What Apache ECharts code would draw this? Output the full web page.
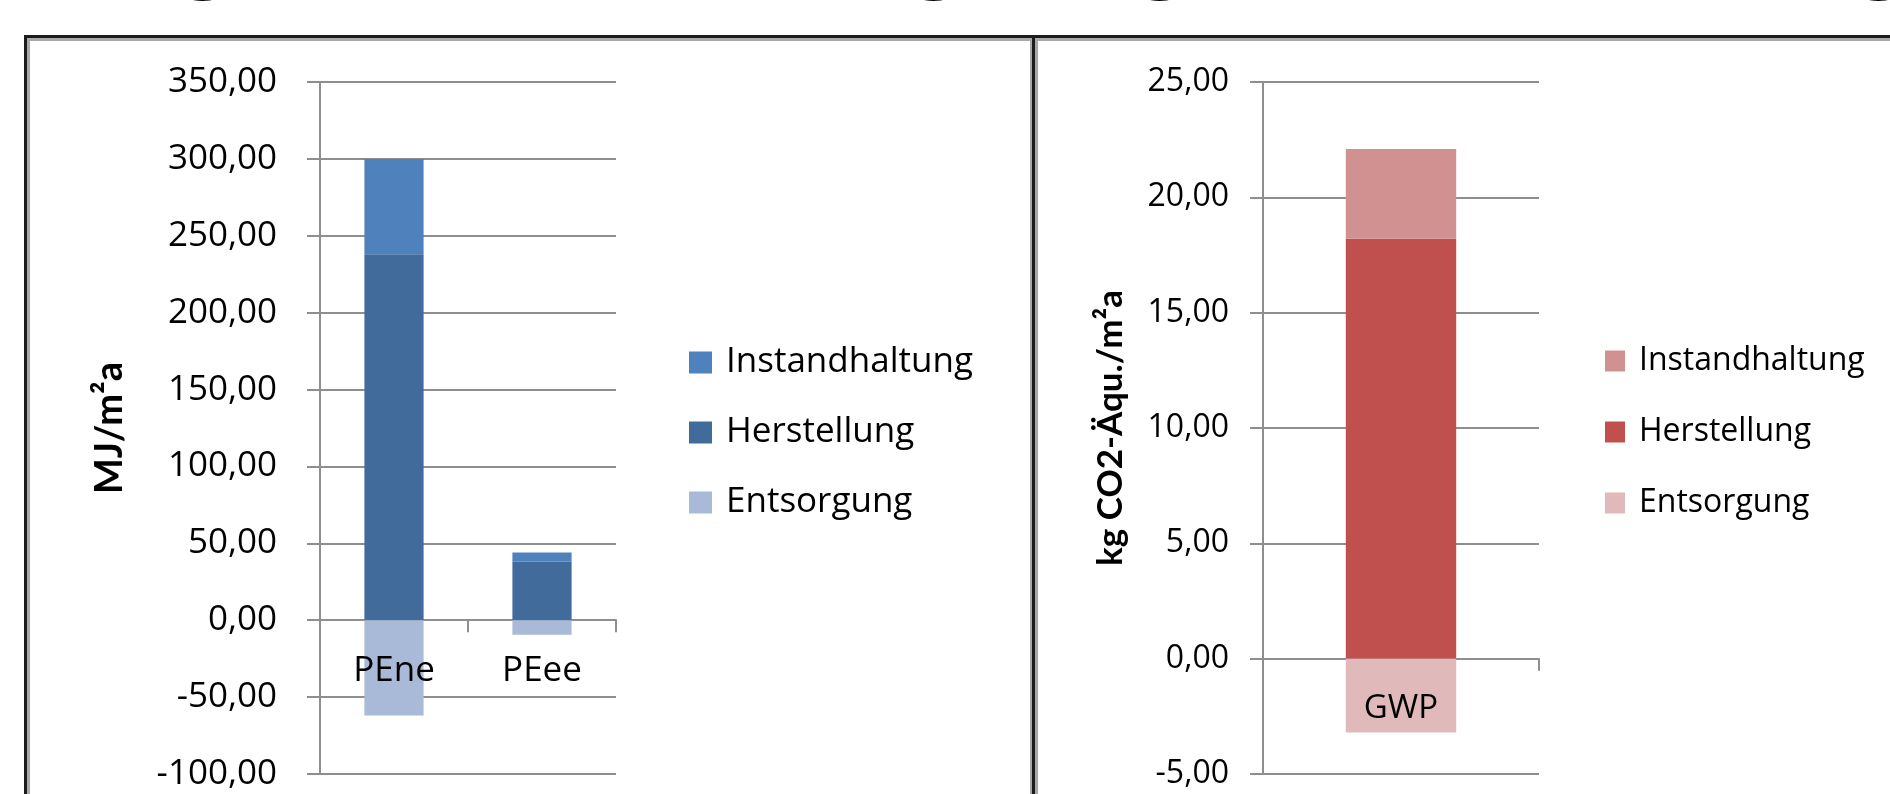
<!DOCTYPE html>
<html>
<head>
<meta charset="utf-8">
<title>Primärenergie und GWP</title>
<script src="https://cdn.jsdelivr.net/npm/echarts@6/dist/echarts.min.js"></script>
<style>
  html, body { margin: 0; padding: 0; background: #ffffff; }
  #chart { width: 1890px; height: 794px; }
</style>
</head>
<body>
<div id="chart"></div>
<script>
// Primary energy (MJ/m²a) per life-cycle phase
const peCategories = ['PEne', 'PEee'];
const peHerstellung = [238, 38];
const peInstandhaltung = [62, 6];
const peEntsorgung = [-62, -9.5];
const peAxis = { min: -100, max: 350, interval: 50 };

// Global warming potential (kg CO2-Äqu./m²a) per life-cycle phase
const gwpCategories = ['GWP'];
const gwpHerstellung = [18.2];
const gwpInstandhaltung = [3.9];
const gwpEntsorgung = [-3.2];
const gwpAxis = { min: -5, max: 25, interval: 5 };

const phaseNames = ['Instandhaltung', 'Herstellung', 'Entsorgung'];
const blueColors = { Instandhaltung: '#4f81bd', Herstellung: '#416b9b', Entsorgung: '#a9bad9' };
const redColors = { Instandhaltung: '#d29191', Herstellung: '#c0504e', Entsorgung: '#e0b9ba' };

const FONT = '"Open Sans", Lato, sans-serif';
const TITLE_FONT = 'Lato, "Open Sans", sans-serif';
const GRID_GRAY = '#8e8e8e';
const fmt = v => v.toFixed(2).replace('.', ',');

// plot areas
const gridTop = 82, gridBottom = 20;
const plotHeight = 794 - gridTop - gridBottom;
const grids = [
  { left: 320, width: 296, top: gridTop, bottom: gridBottom, outerBoundsMode: 'none', containLabel: false },
  { left: 1263, width: 276, top: gridTop, bottom: gridBottom, outerBoundsMode: 'none', containLabel: false }
];
// distance from the bottom of a plot area up to its zero line
const zeroLift = a => (0 - a.min) / (a.max - a.min) * plotHeight;

const chart = echarts.init(document.getElementById('chart'), null, { renderer: 'canvas' });

function valueAxis(gridIndex, a, name, fontSize, margin, nameGap, nameSize) {
  return {
    type: 'value', gridIndex, min: a.min, max: a.max, interval: a.interval,
    name, nameLocation: 'middle', nameRotate: 90, nameGap,
    nameTextStyle: { fontFamily: TITLE_FONT, fontWeight: 'bold', fontSize: nameSize, color: '#000' },
    axisLine: { show: true, lineStyle: { color: GRID_GRAY, width: 2 } },
    axisTick: { show: true, length: 13, lineStyle: { color: GRID_GRAY, width: 2 } },
    splitLine: { show: true, lineStyle: { color: GRID_GRAY, width: 2 } },
    axisLabel: { formatter: fmt, fontFamily: FONT, fontSize, color: '#000', margin }
  };
}

// zero line with tick marks between the categories
function zeroAxis(gridIndex, data) {
  return {
    type: 'category', gridIndex, data,
    axisLine: { show: true, onZero: true, lineStyle: { color: GRID_GRAY, width: 2 } },
    axisTick: { show: true, length: 12, lineStyle: { color: GRID_GRAY, width: 2 } },
    axisLabel: { show: false },
    splitLine: { show: false }
  };
}

// category names, set just under the zero line and drawn over the bars
function labelAxis(gridIndex, data, fontSize, lift) {
  return {
    type: 'category', gridIndex, data, position: 'bottom', offset: -lift, z: 10,
    axisLine: { show: false, onZero: false },
    axisTick: { show: false },
    splitLine: { show: false },
    axisLabel: { fontFamily: FONT, fontSize, color: '#000', margin: 33 }
  };
}

function bar(name, data, idx, stack, color) {
  return {
    name, type: 'bar', data, stack, barWidth: '40%',
    xAxisIndex: idx, yAxisIndex: idx,
    itemStyle: { color }
  };
}

function legend(left, itemWidth, itemHeight, fontSize, gap, colors) {
  return {
    orient: 'vertical', left, top: 340, itemWidth, itemHeight, itemGap: gap,
    icon: 'rect', selectedMode: false,
    textStyle: { fontFamily: FONT, fontSize, color: '#000', padding: [0, 0, 0, 9] },
    data: phaseNames.map(n => ({ name: n, itemStyle: { color: colors[n] } }))
  };
}

// Panel frames and the partly visible heading above them
const frameGraphics = [
  { type: 'rect', shape: { x: 28.5, y: 39.5, width: 1003, height: 800 }, style: { fill: 'none', stroke: '#a8a8a8', lineWidth: 3 } },
  { type: 'rect', shape: { x: 25.5, y: 36.5, width: 1008, height: 800 }, style: { fill: 'none', stroke: '#1c1c1c', lineWidth: 3 } },
  { type: 'rect', shape: { x: 1036.5, y: 39.5, width: 900, height: 800 }, style: { fill: 'none', stroke: '#a8a8a8', lineWidth: 3 } },
  { type: 'rect', shape: { x: 1033.5, y: 36.5, width: 900, height: 800 }, style: { fill: 'none', stroke: '#1c1c1c', lineWidth: 3 } }
];
const headingGlyphX = [204, 935, 1161, 1880];
const headingGraphics = headingGlyphX.map(x => ({
  type: 'text', x, y: -96, z: -1,
  style: { text: 'g', font: '100px "Liberation Serif", serif', fill: '#000', align: 'center', verticalAlign: 'top' }
}));

chart.setOption({
  animation: false,
  backgroundColor: '#ffffff',
  grid: grids,
  xAxis: [
    zeroAxis(0, peCategories),
    zeroAxis(1, gwpCategories),
    labelAxis(0, peCategories, 35, zeroLift(peAxis)),
    labelAxis(1, gwpCategories, 33, zeroLift(gwpAxis))
  ],
  yAxis: [
    valueAxis(0, peAxis, 'MJ/m²a', 35, 43, 191, 38),
    valueAxis(1, gwpAxis, 'kg CO2-Äqu./m²a', 32, 34, 135, 35)
  ],
  legend: [
    legend(684, 23, 22, 35, 35, blueColors),
    legend(1600, 20, 21, 32, 39, redColors)
  ],
  series: [
    bar('Herstellung', peHerstellung, 0, 'pe', blueColors.Herstellung),
    bar('Instandhaltung', peInstandhaltung, 0, 'pe', blueColors.Instandhaltung),
    bar('Entsorgung', peEntsorgung, 0, 'pe', blueColors.Entsorgung),
    bar('Herstellung', gwpHerstellung, 1, 'gwp', redColors.Herstellung),
    bar('Instandhaltung', gwpInstandhaltung, 1, 'gwp', redColors.Instandhaltung),
    bar('Entsorgung', gwpEntsorgung, 1, 'gwp', redColors.Entsorgung)
  ],
  graphic: frameGraphics.concat(headingGraphics)
});
</script>
</body>
</html>
